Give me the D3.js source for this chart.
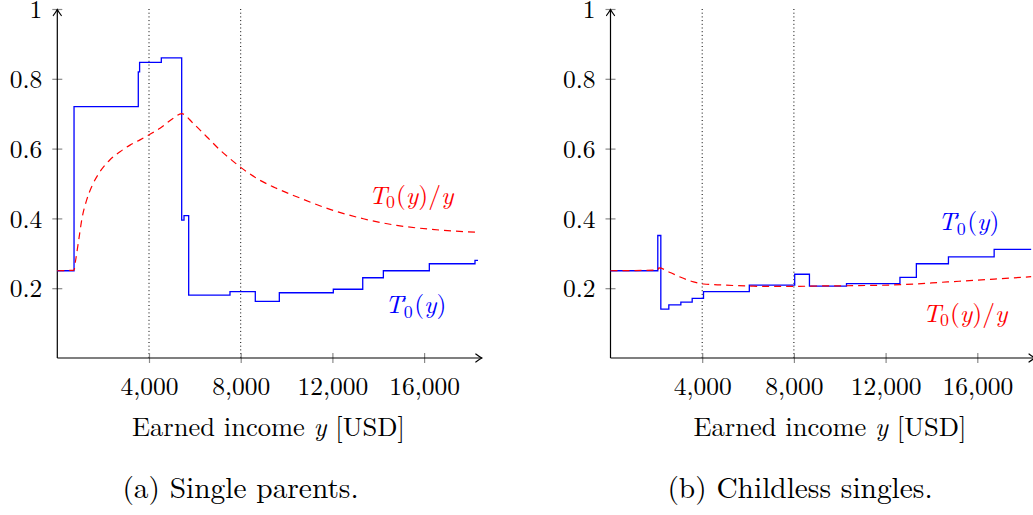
<!DOCTYPE html>
<html>
<head>
<meta charset="utf-8">
<script src="https://cdn.jsdelivr.net/npm/d3@7"></script>
<style>
  html, body { margin: 0; padding: 0; background: #fff; }
  svg { display: block; }
</style>
</head>
<body>
<svg id="chart" width="1033" height="515"></svg>
<script>
// Axis ticks and reference lines
const yTicks = [0.2, 0.4, 0.6, 0.8, 1];
const xTicks = [4000, 8000, 12000, 16000];
const refLines = [4000, 8000];
const xMax = 18350;

// Single parents: marginal tax rate T0'(y), step points [income, rate]
const parentsMarginal = [
  [0, 0.25], [730, 0.72], [3533, 0.82], [3590, 0.847], [4537, 0.86],
  [5426, 0.395], [5527, 0.408], [5731, 0.18], [7533, 0.19], [8637, 0.162],
  [9685, 0.187], [12040, 0.197], [13323, 0.23], [14223, 0.25], [16228, 0.27],
  [18220, 0.28], [18350, 0.28]
];
// Single parents: average tax rate T0(y)/y
const parentsAverage = [
  [0, 0.25], [730, 0.252], [800, 0.28], [870, 0.31], [950, 0.345], [1064, 0.395],
  [1282, 0.453], [1500, 0.491], [1863, 0.534], [2299, 0.568], [2735, 0.591],
  [3171, 0.610], [3607, 0.625], [3987, 0.639], [4480, 0.658], [5060, 0.687],
  [5426, 0.70], [5932, 0.672], [6517, 0.634], [7097, 0.596], [7607, 0.567],
  [8044, 0.544], [8768, 0.512], [9500, 0.488], [10445, 0.462], [11896, 0.426],
  [13350, 0.399], [14805, 0.380], [16260, 0.369], [18350, 0.36]
];

// Childless singles: marginal tax rate T0'(y)
const singlesMarginal = [
  [0, 0.25], [2063, 0.351], [2195, 0.14], [2544, 0.152], [3069, 0.16],
  [3563, 0.171], [4057, 0.19], [6055, 0.209], [8035, 0.24], [8678, 0.206],
  [10295, 0.213], [12626, 0.231], [13342, 0.27], [14741, 0.29], [16735, 0.311],
  [18350, 0.311]
];
// Childless singles: average tax rate T0(y)/y
const singlesAverage = [
  [0, 0.25], [2063, 0.252], [2110, 0.258], [2601, 0.245], [3038, 0.232],
  [3620, 0.218], [4057, 0.212], [4931, 0.209], [6098, 0.206], [6973, 0.205],
  [7992, 0.205], [8721, 0.206], [10295, 0.207], [12655, 0.210], [14697, 0.218],
  [16735, 0.226], [18350, 0.233]
];

const FONT = '"Latin Modern Roman", "Liberation Serif", serif';
const fontSize = 25.5;
const titleSize = 26.5;
const captionSize = 29.4;

const svg = d3.select("#chart");

// Arrow head in the style of a TikZ "->" tip
svg.append("defs").append("marker")
  .attr("id", "arrow")
  .attr("viewBox", "-8 -5 10 10")
  .attr("refX", 0).attr("refY", 0)
  .attr("markerWidth", 10).attr("markerHeight", 10)
  .attr("markerUnits", "userSpaceOnUse")
  .attr("orient", "auto")
  .append("path")
  .attr("d", "M-6,-4 Q-2,-1 0,0 Q-2,1 -6,4")
  .attr("fill", "none").attr("stroke", "#000").attr("stroke-width", 1.2)
  .attr("stroke-linecap", "round");

const yScale = d3.scaleLinear().domain([0, 1]).range([358, 9]);

function setFont(sel, size) {
  return sel.attr("font-family", null).style("font-family", FONT)
    .style("font-size", size + "px").attr("fill", "#000");
}

const small = (fontSize * 0.7) + "px";

// Average-rate label: T_0(y)/y, centred on x
function averageLabel(g, x, y, color) {
  const t = setFont(g.append("text"), fontSize)
    .attr("x", x).attr("y", y).attr("text-anchor", "middle").attr("fill", color);
  t.append("tspan").text("T").style("font-style", "italic");
  t.append("tspan").text("0").style("font-size", small).attr("dy", 4).attr("dx", -1);
  t.append("tspan").text("(").attr("dy", -4).attr("dx", 1);
  t.append("tspan").text("y").style("font-style", "italic");
  t.append("tspan").text(")/");
  t.append("tspan").text("y").style("font-style", "italic");
}

// Marginal-rate label: T'_0(y), starting at x
function marginalLabel(g, x, y, color) {
  const t = setFont(g.append("text"), fontSize)
    .attr("x", x).attr("y", y).attr("fill", color);
  t.append("tspan").text("T").style("font-style", "italic");
  t.append("tspan").text("0").style("font-size", small).attr("dy", 5).attr("dx", 0.5);
  t.append("tspan").text("(").attr("dy", -5).attr("dx", 1.5);
  t.append("tspan").text("y").style("font-style", "italic");
  t.append("tspan").text(")");
  // prime set above the subscript
  g.append("text")
    .attr("x", x + 16.5).attr("y", y + 1)
    .style("font-family", '"DejaVu Sans", sans-serif')
    .style("font-size", "22px")
    .attr("fill", color)
    .text("\u2032");
}

function drawPanel(cfg) {
  const x = d3.scaleLinear().domain([0, xMax]).range([cfg.x0, cfg.x0 + xMax / 4000 * 91.7]);
  const g = svg.append("g");

  // Dotted reference verticals
  g.selectAll(".ref").data(refLines).join("line")
    .attr("x1", d => x(d)).attr("x2", d => x(d))
    .attr("y1", yScale(1)).attr("y2", yScale(0))
    .attr("stroke", "#000").attr("stroke-width", 1)
    .attr("stroke-dasharray", "1,2.7");

  // Y axis: labels and grey crossing ticks
  const yAxis = d3.axisLeft(yScale).tickValues(yTicks)
    .tickFormat(d => d === 1 ? "1" : d3.format(".1f")(d))
    .tickSize(5).tickPadding(10);
  const ya = g.append("g").attr("transform", `translate(${cfg.x0},0)`).call(yAxis);
  ya.attr("font-family", null).attr("font-size", null);
  ya.select(".domain").remove();
  ya.selectAll(".tick line").attr("x1", -5).attr("x2", 5).attr("stroke", "#8a8a8a").attr("stroke-width", 1.2);
  setFont(ya.selectAll(".tick text"), fontSize).attr("dy", "0.34em");

  // X axis
  const xAxis = d3.axisBottom(x).tickValues(xTicks)
    .tickFormat(d3.format(",")).tickSize(5).tickPadding(14);
  const xa = g.append("g").attr("transform", `translate(0,${yScale(0)})`).call(xAxis);
  xa.attr("font-family", null).attr("font-size", null);
  xa.select(".domain").remove();
  xa.selectAll(".tick line").attr("y1", -5).attr("y2", 5).attr("stroke", "#8a8a8a").attr("stroke-width", 1.2);
  setFont(xa.selectAll(".tick text"), fontSize);

  // Axis lines with arrows
  g.append("line")
    .attr("x1", cfg.x0).attr("x2", cfg.x0)
    .attr("y1", yScale(0)).attr("y2", 9.5)
    .attr("stroke", "#000").attr("stroke-width", 1.2)
    .attr("marker-end", "url(#arrow)");
  g.append("line")
    .attr("x1", cfg.x0).attr("x2", cfg.x0 + 424.5)
    .attr("y1", yScale(0)).attr("y2", yScale(0))
    .attr("stroke", "#000").attr("stroke-width", 1.2)
    .attr("marker-end", "url(#arrow)");

  // Marginal rate (step function)
  const step = d3.line().x(d => x(d[0])).y(d => yScale(d[1])).curve(d3.curveStepAfter);
  g.append("path").datum(cfg.marginal)
    .attr("d", step)
    .attr("fill", "none").attr("stroke", "#0000ff").attr("stroke-width", 1.3);

  // Average rate (dashed)
  const smooth = d3.line().x(d => x(d[0])).y(d => yScale(d[1])).curve(d3.curveMonotoneX);
  g.append("path").datum(cfg.average)
    .attr("d", smooth)
    .attr("fill", "none").attr("stroke", "#ff0000").attr("stroke-width", 1.2)
    .attr("stroke-dasharray", "7,5");

  // Series labels
  averageLabel(g, cfg.avgLabel[0], cfg.avgLabel[1], "#ff0000");
  marginalLabel(g, cfg.margLabel[0], cfg.margLabel[1], "#0000ff");

  // Axis title
  const title = setFont(g.append("text"), titleSize)
    .attr("x", cfg.titleX).attr("y", 436)
    .attr("text-anchor", "middle");
  title.append("tspan").text("Earned income ");
  title.append("tspan").text("y").style("font-style", "italic");
  title.append("tspan").text(" [USD]");

  // Caption
  setFont(g.append("text"), captionSize)
    .attr("x", cfg.captionX).attr("y", 498)
    .attr("text-anchor", "middle")
    .text(cfg.caption);
}

drawPanel({
  x0: 57.3, marginal: parentsMarginal, average: parentsAverage,
  avgLabel: [411, 204], margLabel: [385, 312.5],
  titleX: 268.5, caption: "(a) Single parents.", captionX: 240.5
});
drawPanel({
  x0: 610.5, marginal: singlesMarginal, average: singlesAverage,
  avgLabel: [965, 322], margLabel: [938, 230],
  titleX: 830, caption: "(b) Childless singles.", captionX: 800
});
</script>
</body>
</html>
